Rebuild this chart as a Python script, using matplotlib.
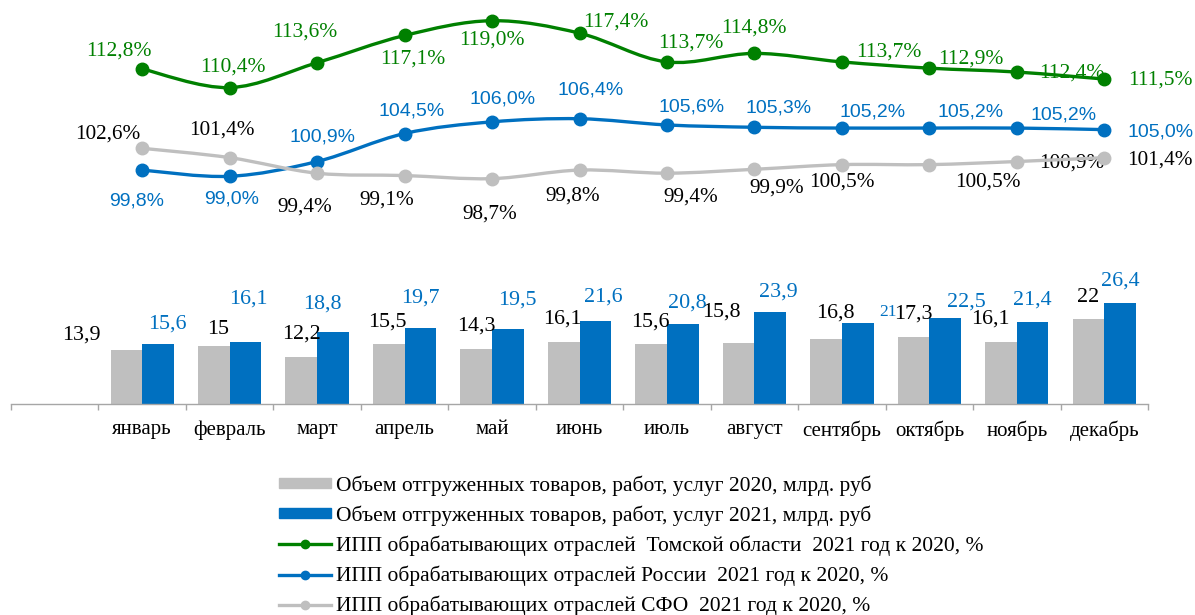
import numpy as np
import matplotlib
matplotlib.use("Agg")
import matplotlib.pyplot as plt
from matplotlib.path import Path
from matplotlib.patches import PathPatch, Patch
from matplotlib.lines import Line2D

# data
months = ['январь', 'февраль', 'март', 'апрель', 'май', 'июнь',
          'июль', 'август', 'сентябрь', 'октябрь', 'ноябрь', 'декабрь']
ship_2020 = [13.9, 15, 12.2, 15.5, 14.3, 16.1, 15.6, 15.8, 16.8, 17.3, 16.1, 22]
ship_2021 = [15.6, 16.1, 18.8, 19.7, 19.5, 21.6, 20.8, 23.9, 21, 22.5, 21.4, 26.4]
ipp_tomsk = [112.8, 110.4, 113.6, 117.1, 119.0, 117.4, 113.7, 114.8, 113.7, 112.9, 112.4, 111.5]
ipp_russia = [99.8, 99.0, 100.9, 104.5, 106.0, 106.4, 105.6, 105.3, 105.2, 105.2, 105.2, 105.0]
ipp_sfo = [102.6, 101.4, 99.4, 99.1, 98.7, 99.8, 99.4, 99.9, 100.5, 100.5, 100.9, 101.4]

legend_labels = [
    'Объем отгруженных товаров, работ, услуг 2020, млрд. руб',
    'Объем отгруженных товаров, работ, услуг 2021, млрд. руб',
    'ИПП обрабатывающих отраслей  Томской области  2021 год к 2020, %',
    'ИПП обрабатывающих отраслей России  2021 год к 2020, %',
    'ИПП обрабатывающих отраслей СФО  2021 год к 2020, %',
]

GRAY = '#BFBFBF'
BLUE = '#0070C0'
GREEN = '#008000'
SERIF = 'Liberation Serif'
SANS = 'Liberation Sans'

# label offsets in pixels (dx, dy up), hand placed like in the source
off_2020 = [(-45, 15), (4, 17), (0, 23), (-1, 22), (0, 23), (-1, 23),
            (-1, 22), (-17, 31), (9, 26), (0, 23), (-11, 23), (0, 22)]
off_2021 = [(9, 20), (3, 43), (-11, 28), (0, 30), (9, 29), (8, 24),
            (5, 21), (8, 20), (30, 11), (21, 16), (0, 22), (0, 22)]
off_tomsk = [(-23, 18), (3, 21), (-12, 31), (8, -24), (0, -19), (36, 11),
             (24, 19), (-1, 25), (47, 10), (42, 9), (55, -1), (56, -1)]
off_russia = [(-6, -31), (2, -23), (5, 25), (7, 23), (11, 23), (11, 29),
              (25, 18), (24, 19), (31, 16), (41, 16), (47, 13), (56, -2)]
off_sfo = [(-34, 14), (-8, 28), (-12, -34), (-18, -25), (-2, -35), (-7, -26),
           (24, -24), (22, -19), (0, -17), (59, -17), (55, -2), (56, -2)]


def fmt(v):
    return f'{v:g}'.replace('.', ',')


def smooth_path(xs, ys):
    pts = np.column_stack([xs, ys]).astype(float)
    n = len(pts)
    verts = [pts[0]]
    codes = [Path.MOVETO]
    for i in range(n - 1):
        p0 = pts[max(i - 1, 0)]
        p1 = pts[i]
        p2 = pts[i + 1]
        p3 = pts[min(i + 2, n - 1)]
        verts += [p1 + (p2 - p0) / 6, p2 - (p3 - p1) / 6, p2]
        codes += [Path.CURVE4] * 3
    return Path(verts, codes)


fig = plt.figure(figsize=(11.95, 6.15), dpi=100)
W, H = 1195, 615
ax = fig.add_axes([11 / W, (H - 403.5) / H, 1137 / W, 398.5 / H])
ax2 = ax.twinx()

x = np.arange(1, 13)
bw = 0.362
ax.bar(x - bw / 2, ship_2020, bw, color=GRAY, zorder=2)
ax.bar(x + bw / 2, ship_2021, bw, color=BLUE, zorder=2)
ax.set_xlim(-0.5, 12.5)
ax.set_ylim(0, 398.5 / 3.82)

for i in range(12):
    ax.annotate(fmt(ship_2020[i]), (x[i] - bw / 2, ship_2020[i]), xytext=off_2020[i],
                textcoords='offset pixels', ha='center', va='center',
                fontsize=15.8, family=SERIF, color='black')
    ax.annotate(fmt(ship_2021[i]), (x[i] + bw / 2, ship_2021[i]), xytext=off_2021[i],
                textcoords='offset pixels', ha='center', va='center',
                fontsize=12.5 if i == 8 else 15.8, family=SERIF, color=BLUE)

# lines
ax2.set_ylim(119 - (403.5 - 20.7) / 7.78, 119 + (20.7 - 5) / 7.78)
series = [(ipp_tomsk, GREEN, off_tomsk, GREEN, SERIF, 15.5),
          (ipp_russia, BLUE, off_russia, BLUE, SANS, 14),
          (ipp_sfo, GRAY, off_sfo, 'black', SERIF, 15.3)]
for vals, col, offs, tcol, fam, fs in series:
    ax2.add_patch(PathPatch(smooth_path(x, vals), fill=False, edgecolor=col,
                            lw=2.4, capstyle='round', zorder=3))
    ax2.plot(x, vals, 'o', ms=9, color=col, zorder=4)
    for i in range(12):
        ax2.annotate(f'{vals[i]:.1f}%'.replace('.', ','), (x[i], vals[i]), xytext=offs[i],
                     textcoords='offset pixels', ha='center', va='center',
                     fontsize=fs, family=fam, color=tcol, zorder=2)

# axes styling
for a in (ax, ax2):
    for s in ('top', 'left', 'right'):
        a.spines[s].set_visible(False)
    a.set_yticks([])
ax2.spines['bottom'].set_visible(False)
ax.spines['bottom'].set_color('#A6A6A6')
ax.spines['bottom'].set_linewidth(1)
ax.set_xticks(np.arange(-0.5, 13, 1))
ax.set_xticklabels([])
ax.tick_params(axis='x', which='major', length=4.3, color='#A6A6A6', width=1)
ax.set_xticks(x, minor=True)
ax.set_xticklabels(months, minor=True, fontsize=15, family=SERIF)
ax.tick_params(axis='x', which='minor', length=0, pad=12)

# legend
handles = [Patch(color=GRAY), Patch(color=BLUE),
           Line2D([], [], color=GREEN, lw=2.4, marker='o', ms=6),
           Line2D([], [], color=BLUE, lw=2.4, marker='o', ms=6),
           Line2D([], [], color=GRAY, lw=2.4, marker='o', ms=6)]
fig.legend(handles, legend_labels, loc='upper left', bbox_to_anchor=(279 / W, (H - 475) / H),
           frameon=False, prop={'family': SERIF, 'size': 15.5}, handlelength=2.42,
           handleheight=0.37, handletextpad=0.23, labelspacing=0.45,
           borderpad=0, borderaxespad=0)

fig.savefig('out.png', dpi=100)
